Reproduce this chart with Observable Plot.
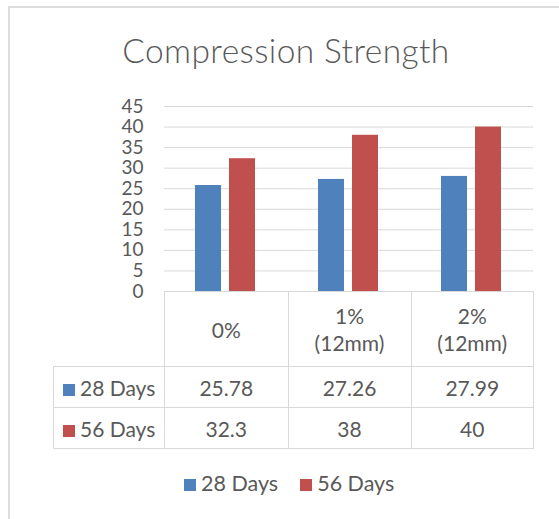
<!DOCTYPE html>
<html>
<head>
<meta charset="utf-8">
<script src="https://cdn.jsdelivr.net/npm/d3@7"></script>
<script src="https://cdn.jsdelivr.net/npm/@observablehq/plot@0.6"></script>
<style>
  html, body { margin: 0; padding: 0; background: #fff; }
  #chart {
    position: relative; width: 559px; height: 519px; overflow: hidden;
    font-family: Lato, "Open Sans", sans-serif; color: #595959;
  }
  #border {
    position: absolute; left: 8px; top: 6px; width: 560px; height: 520px;
    border-top: 2px solid #dcdcdc; border-left: 2px solid #dcdcdc;
  }
  #title {
    position: absolute; left: 10px; width: 552px; top: 29px;
    text-align: center; font-size: 33.5px; font-weight: 300; line-height: 42px;
    letter-spacing: 0.4px;
  }
  #plot { position: absolute; left: 0; top: 94px; }
  #table {
    position: absolute; left: 53px; top: 291px;
    border-collapse: collapse; table-layout: fixed; font-size: 21px;
  }
  #table td {
    border: 1px solid #d9d9d9; text-align: center; padding: 0;
    line-height: 27px;
  }
  #table td.blank { border: none; }
  #table td.key { text-align: left; padding-left: 9px; white-space: nowrap; }
  .sw { display: inline-block; width: 12px; height: 12px; margin-right: 5px; vertical-align: 0px; }
  #legend {
    position: absolute; top: 470px; left: 184px; font-size: 21.5px; white-space: nowrap;
    line-height: 26px;
  }
  #legend span.item { margin-right: 22px; }
</style>
</head>
<body>
<div id="chart">
  <div id="border"></div>
  <div id="title">Compression Strength</div>
  <div id="plot"></div>
  <table id="table"></table>
  <div id="legend"></div>
</div>
<script>
// Compressive strength (MPa) by fibre content, at two curing ages
const categories = ["0%", "1%\n(12mm)", "2%\n(12mm)"];
const series = ["28 Days", "56 Days"];
const days28 = [25.78, 27.26, 27.99];
const days56 = [32.3, 38, 40];
const yTicks = [0, 5, 10, 15, 20, 25, 30, 35, 40, 45];
const colors = ["#4f81bd", "#c0504d"];

const valuesBySeries = [days28, days56];
const rows = series.flatMap((s, si) =>
  categories.map((c, ci) => ({category: c, series: s, value: valuesBySeries[si][ci]}))
);

const plot = Plot.plot({
  width: 559,
  height: 211,
  marginLeft: 163,
  marginRight: 26,
  marginTop: 12,
  marginBottom: 14,
  style: {fontFamily: "Lato, 'Open Sans', sans-serif", fontSize: "19px", color: "#595959", background: "transparent"},
  fx: {domain: categories, padding: 0, axis: null},
  x: {domain: series, paddingInner: 0.23, paddingOuter: 0.88, axis: null},
  y: {domain: [0, 45], ticks: yTicks, label: null},
  color: {domain: series, range: colors},
  marks: [
    Plot.ruleY(yTicks.filter(t => t > 0), {stroke: "#d9d9d9", strokeWidth: 1}),
    Plot.barY(rows, {fx: "category", x: "series", y: "value", fill: "series"}),
    Plot.axisY({ticks: yTicks, tickSize: 0, tickPadding: 21, label: null, fill: "#595959", fontSize: 19, facetAnchor: "left"})
  ]
});
document.getElementById("plot").appendChild(plot);

// Data table under the bars
const table = document.getElementById("table");
const colWidths = [111, 123.5, 123, 122.5];
const colgroup = document.createElement("colgroup");
colWidths.forEach(w => {
  const col = document.createElement("col");
  col.style.width = w + "px";
  colgroup.appendChild(col);
});
table.appendChild(colgroup);

const head = document.createElement("tr");
head.style.height = "75px";
const blank = document.createElement("td");
blank.className = "blank";
head.appendChild(blank);
categories.forEach(c => {
  const td = document.createElement("td");
  td.innerHTML = c.split("\n").join("<br>");
  head.appendChild(td);
});
table.appendChild(head);

series.forEach((s, si) => {
  const tr = document.createElement("tr");
  tr.style.height = "41px";
  const key = document.createElement("td");
  key.className = "key";
  key.innerHTML = `<span class="sw" style="background:${colors[si]}"></span>${s}`;
  tr.appendChild(key);
  valuesBySeries[si].forEach(v => {
    const td = document.createElement("td");
    td.textContent = String(v);
    tr.appendChild(td);
  });
  table.appendChild(tr);
});

// Legend
const legend = document.getElementById("legend");
series.forEach((s, si) => {
  const item = document.createElement("span");
  item.className = "item";
  item.innerHTML = `<span class="sw" style="background:${colors[si]}"></span>${s}`;
  legend.appendChild(item);
});
</script>
</body>
</html>
